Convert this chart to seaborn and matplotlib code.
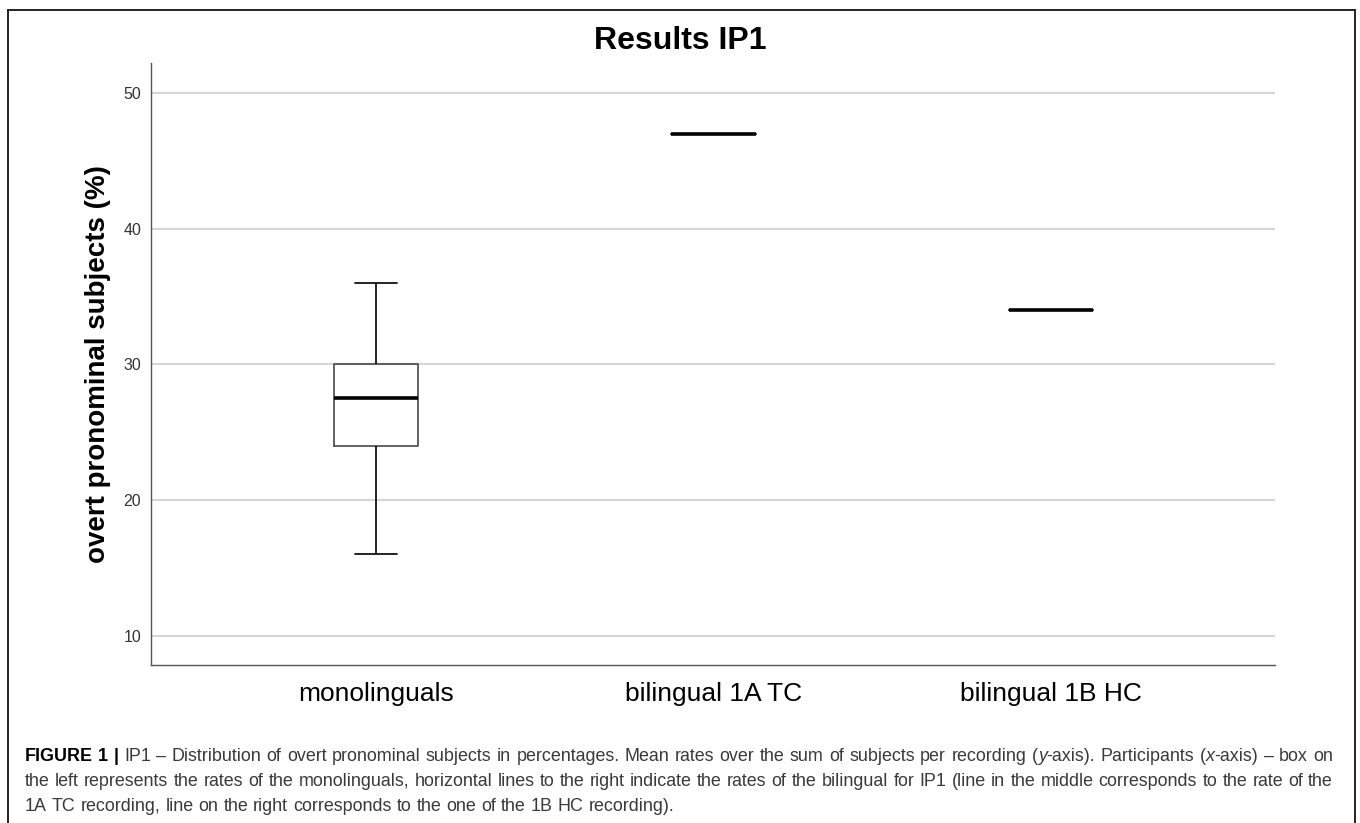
import matplotlib
matplotlib.use("Agg")
import matplotlib.pyplot as plt
import seaborn as sns
import pandas as pd
import numpy as np
from matplotlib.patches import Rectangle

# --- data ---
groups = ["monolinguals", "bilingual 1A TC", "bilingual 1B HC"]
# five-number summary of the monolingual box: min, Q1, median, Q3, max
mono_summary = [16, 24, 27.5, 30, 36]
# single recordings of the bilingual speaker
bilingual_values = [47, 34]

y_ticks = [10, 20, 30, 40, 50]
title = "Results IP1"
ylabel = "overt pronominal subjects (%)"

caption_lines = [
    "FIGURE 1 | IP1 \u2013 Distribution of overt pronominal subjects in percentages. Mean rates over the sum of "
    "subjects per recording (*y*-axis). Participants (*x*-axis) \u2013 box on",
    "the left represents the rates of the monolinguals, horizontal lines to the right indicate the rates of "
    "the bilingual for IP1 (line in the middle corresponds to the rate of the",
    "1A TC recording, line on the right corresponds to the one of the 1B HC recording).",
]

# smallest sample that reproduces the five-number summary
lo, q1, med, q3, hi = mono_summary
mono_values = [lo, q1, q1, med, med, q3, q3, hi]

df = pd.DataFrame({
    "group": [groups[0]] * len(mono_values) + groups[1:],
    "value": mono_values + bilingual_values,
})

W, H = 1360, 823
sns.set_theme(style="white")
plt.rcParams["font.family"] = ["Liberation Sans", "DejaVu Sans"]

fig = plt.figure(figsize=(W / 100, H / 100), dpi=100)
ax = fig.add_axes([151 / W, 1 - 665 / H, (1275 - 151) / W, (665 - 63) / H])

sns.boxplot(
    data=df, x="group", y="value", order=groups, ax=ax,
    width=0.25, fill=False, linecolor="#444444", linewidth=1.3,
    whis=1.5, showfliers=False,
    medianprops={"color": "black", "linewidth": 2.6},
    whiskerprops={"color": "#111111", "linewidth": 1.3},
    capprops={"color": "#111111", "linewidth": 1.3},
    boxprops={"color": "#555555", "linewidth": 1.3},
)

ax.set_xlim(-0.667, 2.664)
ax.set_ylim(7.86, 52.2)
ax.set_yticks(y_ticks)
ax.set_yticklabels([str(t) for t in y_ticks], fontsize=11.5, color="#333333")
ax.tick_params(axis="y", length=0, pad=7)
ax.tick_params(axis="x", length=0, pad=12, labelsize=19, labelcolor="black")
ax.grid(axis="y", color="#d6d6d6", linewidth=1.6)
ax.set_axisbelow(True)
for side in ["top", "right"]:
    ax.spines[side].set_visible(False)
for side in ["left", "bottom"]:
    ax.spines[side].set_color("#555555")
    ax.spines[side].set_linewidth(1.0)
ax.set_xlabel("")
ax.set_ylabel(ylabel, fontsize=20, fontweight="bold", color="black")
ax.yaxis.set_label_coords(-0.036, 0.5)

fig.text(0.5, 1 - 41 / H, title, ha="center", va="center",
         fontsize=23, fontweight="bold", color="black")

# outer frame around chart and caption
fig.add_artist(Rectangle((8 / W, -0.05), (1355 - 8) / W, 1 - 10 / H + 0.05,
                         transform=fig.transFigure, fill=False,
                         edgecolor="#222222", linewidth=1.4, clip_on=False))

# --- caption, justified like the journal layout ---
renderer = fig.canvas.get_renderer()
cap_size = 12.9
cap_gray = "#3a3a3a"


def split_segments(word):
    segs = []
    for i, p in enumerate(word.split("*")):
        if p:
            segs.append((p, "normal", "italic" if i % 2 == 1 else "normal"))
    return segs


def seg_width(text, weight, style):
    t = fig.text(0, 0, text, fontsize=cap_size, fontweight=weight, fontstyle=style)
    w = t.get_window_extent(renderer).width
    t.remove()
    return w


left, right = 25, 1333
space_w = seg_width("a a", "normal", "normal") - seg_width("aa", "normal", "normal")
baselines = [761, 786, 811]
for li, line in enumerate(caption_lines):
    raw_words = line.split(" ")
    words = []
    for wi, w in enumerate(raw_words):
        if li == 0 and wi < 3:
            words.append([(w, "bold", "normal")])
        else:
            words.append(split_segments(w))
    widths = [sum(seg_width(*s) for s in wd) for wd in words]
    justify = li < len(caption_lines) - 1
    gap = (right - left - sum(widths)) / (len(words) - 1) if justify else space_w
    x = left
    for wd, ww in zip(words, widths):
        for text, weight, style in wd:
            color = "black" if weight == "bold" else cap_gray
            fig.text(x / W, 1 - baselines[li] / H, text, fontsize=cap_size,
                     fontweight=weight, fontstyle=style, color=color,
                     ha="left", va="baseline")
            x += seg_width(text, weight, style)
        x += gap

fig.savefig("out.png", dpi=100)
